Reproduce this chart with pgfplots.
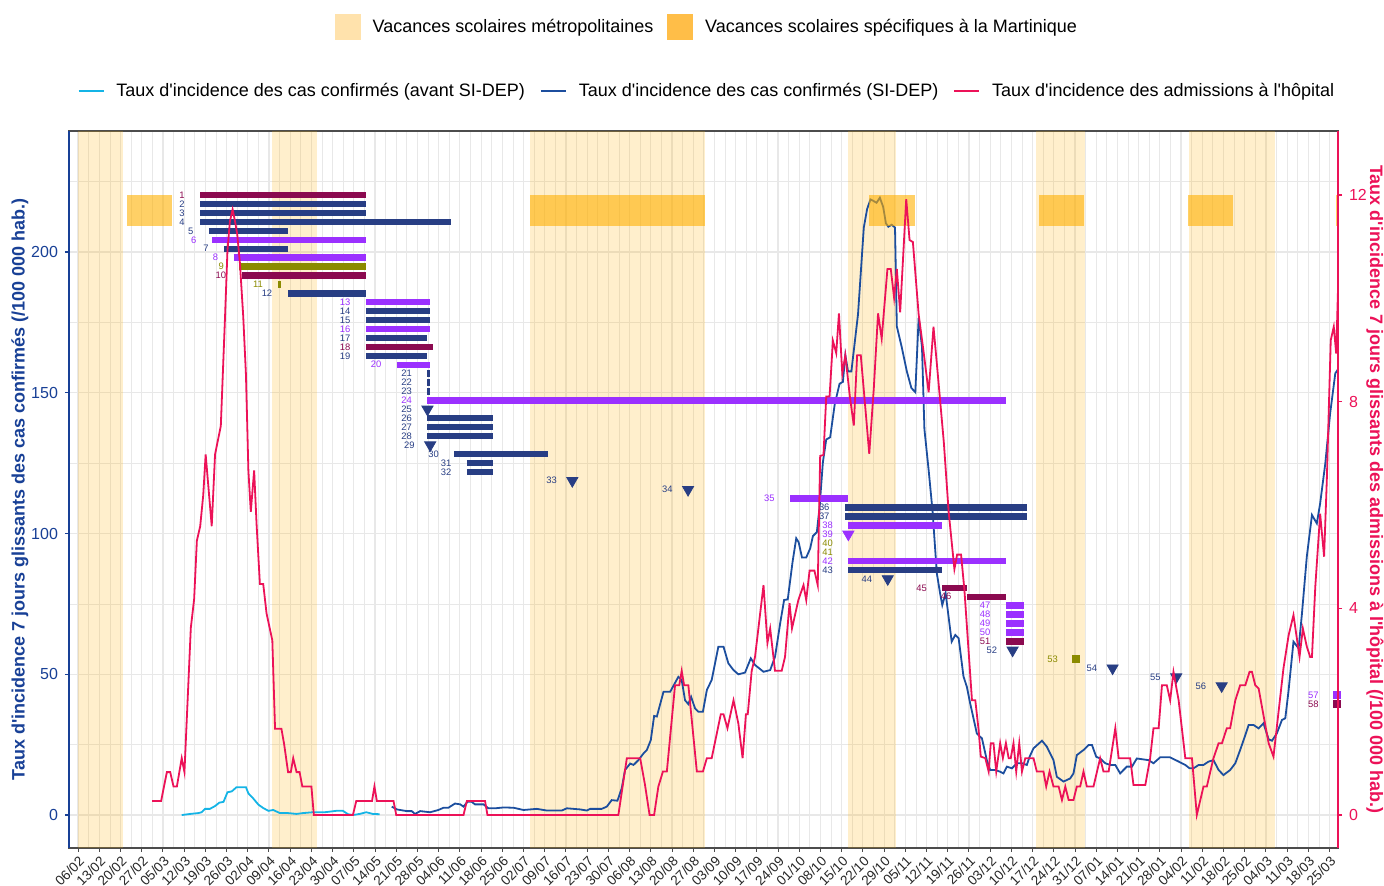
\documentclass[border=0pt]{standalone}
\usepackage{fontspec}
\setmainfont{Liberation Sans}[Ligatures=TeXOff]
\usepackage{pgfplots}
\pgfplotsset{compat=1.18}
\definecolor{hol}{RGB}{255,176,0}
\definecolor{legL}{RGB}{255,226,172}
\definecolor{legD}{RGB}{255,190,72}
\definecolor{cblue}{RGB}{20,180,230}
\definecolor{dblue}{RGB}{28,78,158}
\definecolor{hred}{RGB}{236,18,88}
\definecolor{axblue}{RGB}{24,64,150}
\definecolor{mN}{RGB}{40,62,132}
\definecolor{mP}{RGB}{155,48,255}
\definecolor{mO}{RGB}{139,139,0}
\definecolor{mM}{RGB}{139,10,80}
\definecolor{gridc}{RGB}{232,232,232}
\newcommand{\mbar}[4]{\addplot[forget plot, draw=#1, line width=3.2pt] coordinates {(#2,#4) (#3,#4)};}
\newcommand{\mtri}[3]{\addplot[forget plot, only marks, mark=triangle*, mark size=3.2pt, mark options={rotate=180, fill=#1, draw=#1}] coordinates {(#2,#3)};}
\newcommand{\msq}[3]{\addplot[forget plot, only marks, mark=square*, mark size=1.8pt, mark options={fill=#1, draw=#1}] coordinates {(#2,#3)};}
\newcommand{\mlab}[4]{\node[anchor=east, text=#1, inner sep=0pt, font=\fontsize{4.7}{5}\selectfont] at (axis cs:#2,#4) {#3};}
\newcommand{\hrect}[2]{\addplot[forget plot, fill=hol, fill opacity=0.2, draw=none] coordinates {(#1,-11.7) (#2,-11.7) (#2,243) (#1,243)} -- cycle;}
\newcommand{\mrect}[2]{\addplot[forget plot, fill=hol, fill opacity=0.6, draw=none] coordinates {(#1,209.3) (#2,209.3) (#2,220.3) (#1,220.3)} -- cycle;}
\begin{document}
\begin{tikzpicture}
\useasboundingbox (-34.5pt,-19pt) rectangle (657.5pt,424pt);
\begin{axis}[
  name=ax, at={(0,0)}, anchor=south west,
  scale only axis, width=634.5pt, height=358.5pt,
  xmin=-3, xmax=415.8, ymin=-11.7, ymax=243,
  axis line style={draw=black!70, line width=0.6pt},
  xtick pos=lower, ytick pos=lower,
  tick align=outside, major tick length=2pt, minor tick length=0pt,
  xtick={0,7,...,413},
  minor xtick={3.5,10.5,...,413.5},
  ytick={0,50,100,150,200},
  minor ytick={25,75,125,175,225},
  grid=both,
  major grid style={draw=gridc, line width=0.6pt},
  minor grid style={draw=gridc, line width=0.4pt},
  xticklabels={06/02,13/02,20/02,27/02,05/03,12/03,19/03,26/03,02/04,09/04,16/04,23/04,30/04,07/05,14/05,21/05,28/05,04/06,11/06,18/06,25/06,02/07,09/07,16/07,23/07,30/07,06/08,13/08,20/08,27/08,03/09,10/09,17/09,24/09,01/10,08/10,15/10,22/10,29/10,05/11,12/11,19/11,26/11,03/12,10/12,17/12,24/12,31/12,07/01,14/01,21/01,28/01,04/02,11/02,18/02,25/02,04/03,11/03,18/03,25/03},
  xticklabel style={rotate=45, anchor=north east, font=\fontsize{6.8}{7}\selectfont, text=black!85, inner sep=1pt},
  xtick style={draw=black!70, line width=0.5pt},
  ytick style={draw=axblue, line width=0.6pt},
  yticklabel style={text=axblue, font=\fontsize{8}{9}\selectfont},
  /pgf/number format/assume math mode=true,
  ylabel={Taux d'incidence 7 jours glissants des cas confirmés (/100 000 hab.)},
  every axis y label/.style={at={(axis description cs:0,0.5)}, xshift=-24.5pt, rotate=90, anchor=center, text=axblue, font=\bfseries\fontsize{9}{10}\selectfont},
  legend style={at={(0.5035,1.145)}, anchor=center, draw=none, fill=none, legend columns=2,
    font=\fontsize{9}{10}\selectfont, inner sep=0pt,
    /tikz/every odd column/.append style={column sep=4pt},
    /tikz/every even column/.append style={column sep=5pt}},
]
% school holidays
\hrect{0.1}{14.9}
\hrect{64.1}{78.9}
\hrect{149.2}{206.9}
\hrect{254.1}{269.9}
\hrect{316.2}{332.4}
\hrect{366.5}{395.1}
% cases before SI-DEP
\addplot[forget plot, cblue, line width=0.9pt] table {
x y
34.2 0
37.0 0.4
39.7 0.7
40.8 1.0
41.9 2.2
43.5 2.2
45.2 3.2
46.6 4.4
48.0 4.7
49.3 8.1
50.7 8.4
52.3 9.9
55.4 9.9
56.2 7.7
57.8 5.9
59.5 3.7
61.1 2.5
62.8 1.5
64.4 1.8
66.6 0.7
69.3 0.7
72.1 0.4
74.2 0.7
77.5 1.0
81.4 1.0
85.2 1.5
87.4 1.5
89.1 0.3
90.7 0
92.9 0.4
95.1 1.0
97.3 0.4
99.5 0.3
};
% cases SI-DEP
\addplot[forget plot, dblue, line width=0.9pt] table {
x y
103.5 3.0
105.2 2.0
108.5 1.4
110.1 1.4
111.2 0.4
112.9 1.4
116.2 1.0
118.9 1.8
120.6 2.6
122.2 2.6
124.4 4.1
126.1 3.8
127.2 3.0
128.5 4.7
129.9 4.7
131.0 3.8
133.8 3.8
135.4 2.4
137.6 2.4
140.4 2.7
143.7 2.6
147.0 1.8
151.4 2.2
154.7 1.6
159.6 1.6
161.3 2.4
165.7 2.0
167.9 1.6
169.0 2.2
172.8 2.2
174.5 3.0
176.1 5.3
178.0 5.1
179.4 9.5
180.5 16.0
182.2 18.3
183.3 17.8
184.9 19.5
186.6 21.9
187.7 23.1
189.0 26.6
190.1 35.2
191.0 35.0
193.2 43.8
195.4 43.8
198.1 49.1
199.2 48.0
200.3 40.8
201.4 39.4
202.3 42.0
203.6 37.9
204.7 36.7
206.2 36.7
207.5 44.4
209.1 48.0
211.3 59.8
213.0 59.8
214.6 53.9
216.3 51.5
217.9 50.0
220.1 50.6
222.0 55.7
223.4 53.3
226.2 50.9
228.4 51.5
230.0 56.2
231.7 68.1
233.0 76.4
234.2 76.6
235.8 90.0
237.0 98.3
237.8 96.9
238.9 91.5
240.3 91.5
241.6 94.7
242.5 99.1
243.8 100.5
244.7 109.3
245.8 125.4
246.9 133.4
248.2 134.2
249.7 145.9
251.3 153.2
252.4 153.9
253.2 163.4
254.1 157.6
255.2 157.6
256.3 167.8
257.4 178.0
258.3 192.6
259.3 208.7
260.4 215.3
261.5 218.7
262.4 218.2
263.5 217.5
264.6 219.3
265.7 216.0
266.6 210.2
267.4 209.0
268.5 209.7
269.6 208.7
270.2 173.6
271.8 166.3
273.5 157.6
275.0 151.7
276.3 150.2
277.4 176.6
278.5 166.3
279.3 137.1
280.7 122.5
282.0 107.8
283.4 85.9
284.5 78.6
285.2 74.6
286.3 78.8
288.3 61.6
289.5 64.0
290.6 62.8
292.2 49.2
293.3 45.6
294.4 39.7
296.6 29.0
298.3 27.2
299.9 19.5
301.0 16.0
302.7 16.0
304.3 15.4
305.4 14.8
306.5 17.2
308.2 16.6
309.8 18.4
311.5 18.4
313.1 17.8
314.0 20.7
315.3 23.7
318.1 26.4
319.7 24.3
321.9 19.5
323.0 13.6
325.2 11.9
327.4 13.0
328.5 14.8
329.6 21.3
331.8 23.1
333.5 24.9
334.6 24.9
336.0 20.7
337.3 20.1
339.0 18.4
340.6 17.8
342.3 17.8
343.9 14.8
346.1 17.2
347.8 17.2
349.4 20.1
353.3 19.5
354.9 18.4
357.1 20.5
360.4 20.5
363.2 19.0
365.4 17.8
366.8 16.6
368.1 16.6
369.8 17.8
371.4 17.8
373.1 19.0
374.7 19.5
376.4 16.0
378.0 14.2
380.2 16.0
381.9 18.4
383.5 23.1
385.2 28.4
386.3 32.0
387.9 32.0
389.6 30.8
391.2 32.6
392.9 26.9
394.0 26.4
395.6 29.0
397.3 33.8
398.4 34.4
399.5 44.4
401.1 61.6
402.8 59.2
403.9 71.6
405.5 91.8
407.2 106.6
408.8 103.6
409.9 110.7
411.6 124.9
413.2 142.7
414.9 156.9
416.0 158.7
};
% Martinique-specific holidays
\mrect{16.2}{31.0}
\mrect{149.2}{206.9}
\mrect{261.1}{276.3}
\mrect{317.2}{332.0}
\mrect{366.3}{381.2}
\mrect{415.2}{420}
% measures
\mbar{mM}{40.3}{95.0}{220.20} \mlab{mM}{35.3}{1}{220.20}
\mbar{mN}{40.3}{95.0}{217.03} \mlab{mN}{35.3}{2}{217.03}
\mbar{mN}{40.3}{95.0}{213.86} \mlab{mN}{35.3}{3}{213.86}
\mbar{mN}{40.3}{123.0}{210.69} \mlab{mN}{35.3}{4}{210.69}
\mbar{mN}{43.2}{69.2}{207.52} \mlab{mN}{38.2}{5}{207.52}
\mbar{mP}{44.2}{95.0}{204.35} \mlab{mP}{39.2}{6}{204.35}
\mbar{mN}{48.2}{69.2}{201.18} \mlab{mN}{43.2}{7}{201.18}
\mbar{mP}{51.3}{95.0}{198.01} \mlab{mP}{46.3}{8}{198.01}
\mbar{mO}{53.2}{95.0}{194.84} \mlab{mO}{48.2}{9}{194.84}
\mbar{mM}{54.0}{95.0}{191.67} \mlab{mM}{49.0}{10}{191.67}
\mbar{mO}{66.1}{66.9}{188.50} \mlab{mO}{61.1}{11}{188.50}
\mbar{mN}{69.2}{95.0}{185.33} \mlab{mN}{64.2}{12}{185.33}
\mbar{mP}{95.0}{116.2}{182.16} \mlab{mP}{90.0}{13}{182.16}
\mbar{mN}{95.0}{116.2}{178.99} \mlab{mN}{90.0}{14}{178.99}
\mbar{mN}{95.0}{116.2}{175.82} \mlab{mN}{90.0}{15}{175.82}
\mbar{mP}{95.0}{116.2}{172.65} \mlab{mP}{90.0}{16}{172.65}
\mbar{mN}{95.0}{115.2}{169.48} \mlab{mN}{90.0}{17}{169.48}
\mbar{mM}{95.0}{117.1}{166.31} \mlab{mM}{90.0}{18}{166.31}
\mbar{mN}{95.0}{115.2}{163.14} \mlab{mN}{90.0}{19}{163.14}
\mbar{mP}{105.2}{116.2}{159.97} \mlab{mP}{100.2}{20}{159.97}
\mbar{mN}{115.3}{116.0}{156.80} \mlab{mN}{110.3}{21}{156.80}
\mbar{mN}{115.3}{116.0}{153.63} \mlab{mN}{110.3}{22}{153.63}
\mbar{mN}{115.3}{116.0}{150.46} \mlab{mN}{110.3}{23}{150.46}
\mbar{mP}{115.3}{306.2}{147.29} \mlab{mP}{110.3}{24}{147.29}
\mtri{mN}{115.3}{144.12} \mlab{mN}{110.3}{25}{144.12}
\mbar{mN}{115.3}{137.0}{140.95} \mlab{mN}{110.3}{26}{140.95}
\mbar{mN}{115.3}{137.0}{137.78} \mlab{mN}{110.3}{27}{137.78}
\mbar{mN}{115.3}{137.0}{134.61} \mlab{mN}{110.3}{28}{134.61}
\mtri{mN}{116.2}{131.44} \mlab{mN}{111.2}{29}{131.44}
\mbar{mN}{124.2}{155.2}{128.27} \mlab{mN}{119.2}{30}{128.27}
\mbar{mN}{128.3}{137.0}{125.10} \mlab{mN}{123.3}{31}{125.10}
\mbar{mN}{128.3}{137.0}{121.93} \mlab{mN}{123.3}{32}{121.93}
\mtri{mN}{163.1}{118.76} \mlab{mN}{158.1}{33}{118.76}
\mtri{mN}{201.3}{115.59} \mlab{mN}{196.3}{34}{115.59}
\mbar{mP}{235.0}{254.1}{112.42} \mlab{mP}{230.0}{35}{112.42}
\mbar{mN}{253.1}{313.1}{109.25} \mlab{mN}{248.1}{36}{109.25}
\mbar{mN}{253.1}{313.1}{106.08} \mlab{mN}{248.1}{37}{106.08}
\mbar{mP}{254.2}{285.0}{102.91} \mlab{mP}{249.2}{38}{102.91}
\mtri{mP}{254.2}{99.74} \mlab{mP}{249.2}{39}{99.74}
\mlab{mO}{249.2}{40}{96.57}
\mlab{mO}{249.2}{41}{93.40}
\mbar{mP}{254.2}{306.2}{90.23} \mlab{mP}{249.2}{42}{90.23}
\mbar{mN}{254.2}{285.0}{87.06} \mlab{mN}{249.2}{43}{87.06}
\mtri{mN}{267.2}{83.89} \mlab{mN}{262.2}{44}{83.89}
\mbar{mM}{285.2}{293.3}{80.72} \mlab{mM}{280.2}{45}{80.72}
\mbar{mM}{293.3}{306.2}{77.55} \mlab{mM}{288.3}{46}{77.55}
\mbar{mP}{306.2}{312.2}{74.38} \mlab{mP}{301.2}{47}{74.38}
\mbar{mP}{306.2}{312.2}{71.21} \mlab{mP}{301.2}{48}{71.21}
\mbar{mP}{306.2}{312.2}{68.04} \mlab{mP}{301.2}{49}{68.04}
\mbar{mP}{306.2}{312.2}{64.87} \mlab{mP}{301.2}{50}{64.87}
\mbar{mM}{306.2}{312.2}{61.70} \mlab{mM}{301.2}{51}{61.70}
\mtri{mN}{308.4}{58.53} \mlab{mN}{303.4}{52}{58.53}
\msq{mO}{329.3}{55.36} \mlab{mO}{323.5}{53}{55.36}
\mtri{mN}{341.4}{52.19} \mlab{mN}{336.4}{54}{52.19}
\mtri{mN}{362.4}{49.02} \mlab{mN}{357.4}{55}{49.02}
\mtri{mN}{377.4}{45.85} \mlab{mN}{372.4}{56}{45.85}
\msq{mP}{415.3}{42.68} \mlab{mP}{409.5}{57}{42.68}
\msq{mM}{415.3}{39.51} \mlab{mM}{409.5}{58}{39.51}
% legend (holidays)
\addlegendimage{legend image code/.code={\fill[legL] (0pt,-6.25pt) rectangle (12.5pt,6.25pt);}}
\addlegendentry{Vacances scolaires métropolitaines}
\addlegendimage{legend image code/.code={\fill[legD] (0pt,-6.25pt) rectangle (12.5pt,6.25pt);}}
\addlegendentry{Vacances scolaires spécifiques à la Martinique}
\end{axis}
\draw[axblue, line width=0.9pt] (ax.south west) -- (ax.north west);
\begin{axis}[
  at={(0,0)}, anchor=south west,
  scale only axis, width=634.5pt, height=358.5pt,
  xmin=-3, xmax=415.8, ymin=-0.639, ymax=13.24,
  axis x line=none, axis y line*=right,
  axis line style={-},
  y axis line style={draw=hred, line width=0.9pt},
  ytick={0,4,8,12},
  tick align=outside, major tick length=2pt,
  ytick style={draw=hred, line width=0.6pt},
  yticklabel style={text=hred, font=\fontsize{8}{9}\selectfont},
  /pgf/number format/assume math mode=true,
  ylabel={Taux d'incidence 7 jours glissants des admissions à l'hôpital (/100 000 hab.)},
  every axis y label/.style={at={(axis description cs:1,0.5)}, xshift=18.5pt, rotate=-90, anchor=center, text=hred, font=\bfseries\fontsize{9}{10}\selectfont},
  legend style={at={(0.5035,1.0558)}, anchor=center, draw=none, fill=none, legend columns=3,
    font=\fontsize{9}{10}\selectfont, inner sep=0pt,
    /tikz/every odd column/.append style={column sep=4pt},
    /tikz/every even column/.append style={column sep=5.5pt}},
  legend image code/.code={\draw[#1] (0pt,0pt) -- (12.5pt,0pt);},
]
\addlegendimage{cblue, line width=0.9pt}
\addlegendentry{Taux d'incidence des cas confirmés (avant SI-DEP)}
\addlegendimage{dblue, line width=0.9pt}
\addlegendentry{Taux d'incidence des cas confirmés (SI-DEP)}
\addplot[hred, line width=0.9pt] table {
x y
24.4 0.27
27.4 0.27
29.3 0.83
30.4 0.83
31.5 0.55
32.6 0.55
34.2 1.10
35.1 0.83
37.2 3.62
38.3 4.18
39.2 5.31
40.3 5.59
41.3 6.19
42.1 6.98
44.1 5.59
45.2 6.98
47.1 7.53
48.5 9.65
49.3 10.93
50.1 11.49
51.0 11.72
51.8 11.49
52.5 11.25
53.4 10.69
54.5 9.65
55.4 8.52
56.2 6.67
57.0 5.87
58.1 6.67
58.9 5.63
60.0 4.47
61.1 4.47
62.2 3.90
64.1 3.38
65.0 1.67
67.1 1.67
68.0 1.37
69.3 0.83
70.2 0.83
71.0 1.10
72.1 0.83
73.1 0.83
74.0 0.55
77.0 0.55
77.8 0
90.7 0
91.8 0.27
97.0 0.27
97.8 0.55
98.6 0.27
104.1 0.27
105.0 0
127.2 0
128.3 0.27
134.3 0.27
135.1 0
178.3 0
181.1 1.10
185.5 1.10
187.1 0.58
188.6 0
190.1 0
191.5 0.55
193.0 0.84
194.3 0.84
197.0 2.51
198.4 2.51
199.2 2.79
200.0 2.51
201.4 2.51
204.2 0.84
206.2 0.84
207.5 1.10
209.1 1.10
212.1 1.95
213.0 1.95
214.3 1.68
216.3 2.22
217.9 1.77
219.3 1.10
220.4 1.95
221.0 1.95
222.3 2.79
223.4 3.06
226.2 4.45
227.5 3.33
228.4 3.61
230.0 2.79
232.2 2.79
233.3 3.06
234.8 4.10
235.6 3.61
237.7 4.16
239.4 4.45
240.3 4.16
241.4 4.73
243.0 4.73
244.1 4.45
244.9 6.95
246.0 6.97
246.9 8.10
248.0 8.10
249.1 9.18
250.2 8.94
251.1 9.71
252.2 8.54
253.2 8.90
254.7 8.10
256.0 7.54
257.1 8.90
258.3 8.90
259.6 8.02
261.1 6.99
262.6 8.26
264.0 9.71
265.2 9.22
267.1 10.57
268.2 10.57
269.3 10.01
270.2 10.57
271.3 9.73
273.3 11.92
274.4 11.13
275.5 11.09
277.4 9.69
279.0 8.98
280.7 8.18
282.3 9.45
283.4 8.74
285.7 7.22
287.3 5.87
289.2 4.76
290.1 5.04
291.4 5.04
292.5 4.36
293.5 3.50
295.0 2.22
296.1 2.22
297.2 1.64
297.9 1.13
299.4 1.10
300.5 0.84
301.2 1.39
302.1 1.39
303.0 0.84
304.3 1.39
305.2 1.10
306.2 1.39
307.1 1.10
307.8 1.10
308.7 1.39
309.6 0.84
310.6 1.39
311.5 0.84
312.6 1.10
315.3 1.10
316.4 0.84
318.6 0.84
319.5 0.55
320.6 0.84
321.9 0.55
323.6 0.55
324.7 0.29
325.8 0.55
326.9 0.29
328.5 0.29
329.6 0.55
330.7 0.55
331.8 0.84
332.9 0.55
335.1 0.55
337.3 1.10
338.4 0.84
340.1 0.84
342.3 1.68
343.4 1.10
347.2 1.10
348.3 0.58
352.2 0.58
353.8 1.10
354.9 1.68
356.6 1.68
357.7 2.51
359.3 2.51
360.4 2.22
361.5 2.77
363.2 2.22
365.4 1.10
367.6 1.10
369.2 0.0
371.4 0.55
372.5 0.55
374.7 1.10
376.4 1.39
377.5 1.39
379.1 1.68
380.2 1.68
381.9 2.22
383.5 2.51
385.2 2.51
386.6 2.77
387.4 2.77
388.5 2.51
389.6 2.45
391.2 1.93
392.9 1.39
394.5 1.13
397.8 2.84
399.5 3.48
401.1 3.87
403.1 3.06
404.2 3.61
405.5 3.26
406.6 3.06
407.2 3.06
408.3 4.42
409.9 5.83
411.2 5.00
412.1 6.48
413.4 9.19
414.4 9.45
415.2 8.93
416.0 10.6
};
\addlegendentry{Taux d'incidence des admissions à l'hôpital}
\end{axis}
\end{tikzpicture}
\end{document}
